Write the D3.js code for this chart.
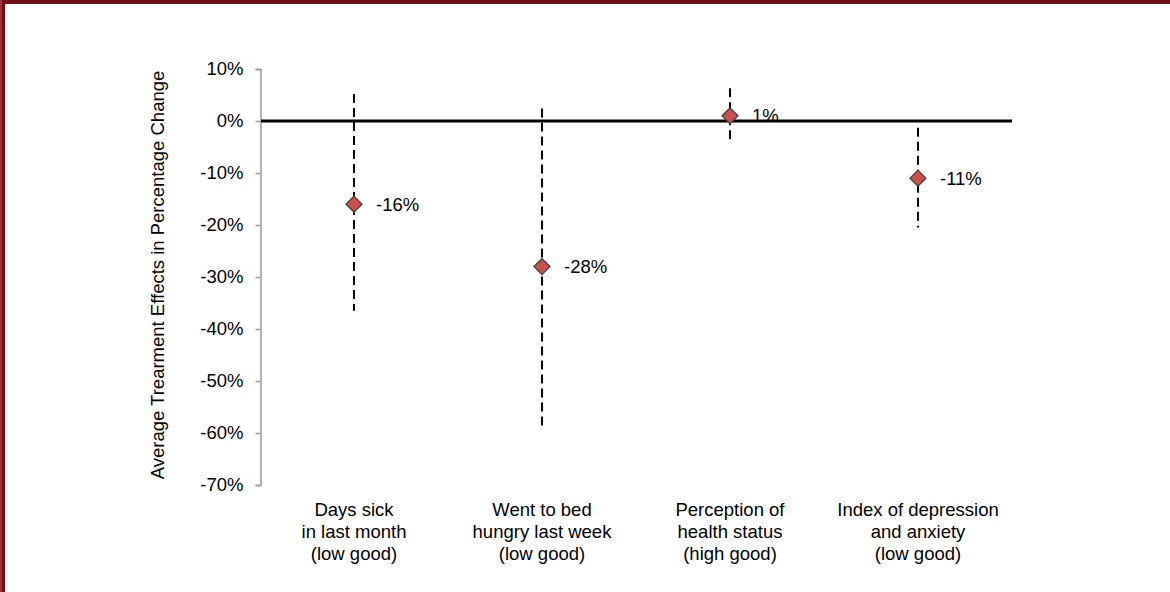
<!DOCTYPE html>
<html>
<head>
<meta charset="utf-8">
<script src="https://cdn.jsdelivr.net/npm/d3@7"></script>
<style>
  body { margin: 0; background: #fff; }
  svg { display: block; font-family: "Liberation Sans", Arial, sans-serif; }
</style>
</head>
<body>
<svg id="chart" width="1170" height="592"></svg>
<script>
// data
const categories = [
  ["Days sick", "in last month", "(low good)"],
  ["Went to bed", "hungry last week", "(low good)"],
  ["Perception of", "health status", "(high good)"],
  ["Index of depression", "and anxiety", "(low good)"]
];
const effects = [-16, -28, 1, -11];
const lowerCI = [-36.5, -59, -4, -20.5];
const upperCI = [5.2, 2.4, 6.3, -1.3];
const effectLabels = ["-16%", "-28%", "1%", "-11%"];
const yTicks = [10, 0, -10, -20, -30, -40, -50, -60, -70];

const svg = d3.select("#chart");
const W = 1170, H = 592;
const fs = 18.5;

// frame
svg.append("rect").attr("x", 0).attr("y", 0).attr("width", W).attr("height", 4).attr("fill", "#72101a");
svg.append("rect").attr("x", 0).attr("y", 0).attr("width", 5).attr("height", H).attr("fill", "#72101a");
svg.append("rect").attr("x", 0).attr("y", 0).attr("width", 2).attr("height", H).attr("fill", "#a0303a");

const x = d3.scaleBand().domain(d3.range(categories.length)).range([260, 1012]).padding(0);
const y = d3.scaleLinear().domain([-70, 10]).range([485, 69]);
const cx = i => x(i) + x.bandwidth() / 2;

// y axis
const yAxis = d3.axisLeft(y).tickValues(yTicks).tickSize(5).tickFormat(d => d + "%");
const ga = svg.append("g").attr("transform", "translate(260.5,0)").call(yAxis);
ga.select(".domain").attr("stroke", "#999").attr("stroke-width", 1.5);
ga.selectAll(".tick line").attr("stroke", "#999").attr("stroke-width", 1.5);
ga.selectAll(".tick text").attr("font-size", fs).attr("fill", "#000").attr("x", -17)
  .attr("font-family", "Liberation Sans, Arial, sans-serif");

// y title
svg.append("text")
  .attr("transform", "translate(164,275) rotate(-90)")
  .attr("text-anchor", "middle")
  .attr("font-size", fs)
  .text("Average Trearment Effects in Percentage Change");

// zero line
svg.append("line")
  .attr("x1", 261).attr("x2", 1012)
  .attr("y1", y(0)).attr("y2", y(0))
  .attr("stroke", "#000").attr("stroke-width", 3);

// confidence bars
svg.selectAll(".ci").data(effects).enter().append("line")
  .attr("class", "ci")
  .attr("x1", (d, i) => cx(i)).attr("x2", (d, i) => cx(i))
  .attr("y1", (d, i) => y(upperCI[i])).attr("y2", (d, i) => y(lowerCI[i]))
  .attr("stroke", "#000").attr("stroke-width", 2)
  .attr("stroke-dasharray", "9,5");

// markers
svg.selectAll(".pt").data(effects).enter().append("path")
  .attr("class", "pt")
  .attr("d", "M0,-8L8,0L0,8L-8,0Z")
  .attr("transform", (d, i) => `translate(${cx(i)},${y(d)})`)
  .attr("fill", "#c9504e").attr("stroke", "#3a3a3a").attr("stroke-width", 1.2);

// value labels
svg.selectAll(".lbl").data(effects).enter().append("text")
  .attr("class", "lbl")
  .attr("x", (d, i) => cx(i) + 22)
  .attr("y", d => y(d))
  .attr("dy", "0.36em")
  .attr("font-size", fs)
  .text((d, i) => effectLabels[i]);

// category labels
const cat = svg.selectAll(".cat").data(categories).enter().append("text")
  .attr("class", "cat")
  .attr("text-anchor", "middle")
  .attr("font-size", fs);
cat.selectAll("tspan").data((d, i) => d.map(t => ({ t, i }))).enter().append("tspan")
  .attr("x", d => cx(d.i))
  .attr("y", (d, j) => 516 + j * 22)
  .text(d => d.t);
</script>
</body>
</html>
